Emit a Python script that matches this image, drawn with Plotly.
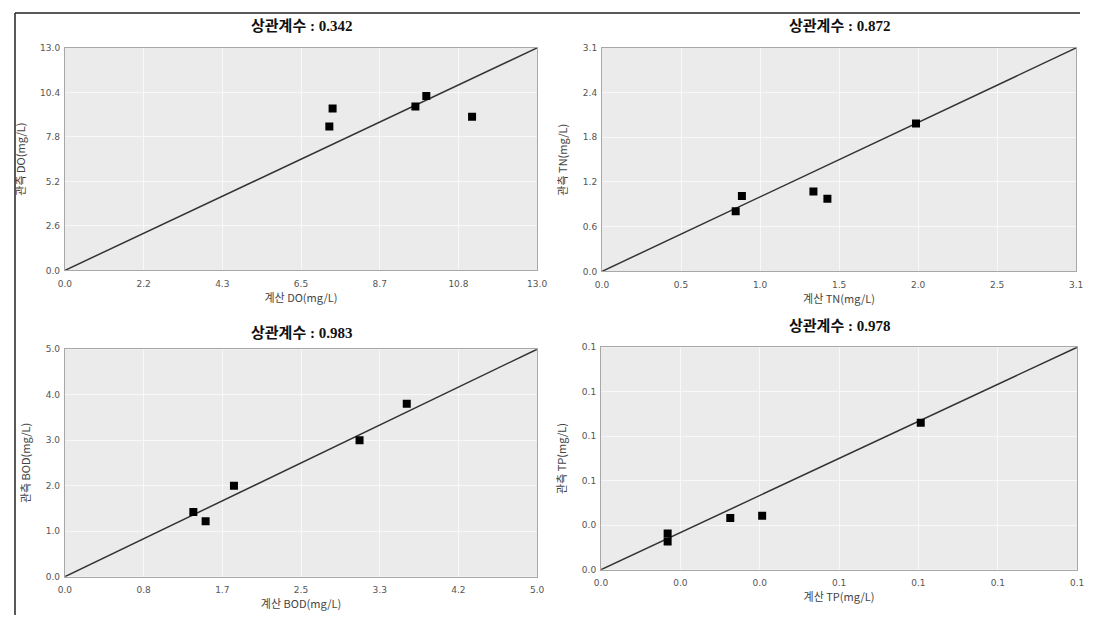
import plotly.graph_objects as go

# ---------------- data ----------------
panel_names = ["DO", "TN", "BOD", "TP"]
corr_coefs = ["0.342", "0.872", "0.983", "0.978"]
axis_max = [13.0, 3.05, 5.0, 0.13]

do_calc = [7.28, 7.37, 9.65, 9.95, 11.21]
do_obs = [8.41, 9.46, 9.58, 10.19, 8.98]

tn_calc = [0.86, 0.90, 1.36, 1.45, 2.02]
tn_obs = [0.82, 1.03, 1.09, 0.99, 2.02]

bod_calc = [1.36, 1.49, 1.79, 3.12, 3.62]
bod_obs = [1.42, 1.22, 2.00, 3.00, 3.80]

tp_calc = [0.0182, 0.0182, 0.0353, 0.0440, 0.0873]
tp_obs = [0.0212, 0.0164, 0.0302, 0.0315, 0.0858]

do_xticks = ["0.0", "2.2", "4.3", "6.5", "8.7", "10.8", "13.0"]
do_yticks = ["0.0", "2.6", "5.2", "7.8", "10.4", "13.0"]
tn_xticks = ["0.0", "0.5", "1.0", "1.5", "2.0", "2.5", "3.1"]
tn_yticks = ["0.0", "0.6", "1.2", "1.8", "2.4", "3.1"]
bod_xticks = ["0.0", "0.8", "1.7", "2.5", "3.3", "4.2", "5.0"]
bod_yticks = ["0.0", "1.0", "2.0", "3.0", "4.0", "5.0"]
tp_xticks = ["0.0", "0.0", "0.0", "0.1", "0.1", "0.1", "0.1"]
tp_yticks = ["0.0", "0.0", "0.1", "0.1", "0.1", "0.1"]

calc_data = [do_calc, tn_calc, bod_calc, tp_calc]
obs_data = [do_obs, tn_obs, bod_obs, tp_obs]
xtick_labels = [do_xticks, tn_xticks, bod_xticks, tp_xticks]
ytick_labels = [do_yticks, tn_yticks, bod_yticks, tp_yticks]

# ---------------- layout geometry ----------------
W, H = 1082, 612
# observed placement of the figure on the photographed page
SC, CX, CY = 0.986, 14.0, 12.0
# (left, right, top, bottom) of each plotting area in target pixels
boxes = [(64, 537, 47, 270), (602, 1077, 47, 271),
         (64, 537, 349, 577), (601, 1078, 347, 570)]
title_y = [25, 25, 333, 326]


def px(x):
    return max(0.0, min(1.0, (x - CX) / SC / W))


def py(y):
    return max(0.0, min(1.0, 1 - (y - CY) / SC / H))


fig = go.Figure()
annotations = []
KFONT = "Noto Sans CJK KR, DejaVu Sans, sans-serif"
TFONT = "Liberation Serif, Noto Sans CJK KR, serif"

for i in range(4):
    l, r, t, b = boxes[i]
    m = axis_max[i]
    xa = "x" if i == 0 else f"x{i+1}"
    ya = "y" if i == 0 else f"y{i+1}"
    xkey = "xaxis" if i == 0 else f"xaxis{i+1}"
    ykey = "yaxis" if i == 0 else f"yaxis{i+1}"
    nx = len(xtick_labels[i]) - 1
    ny = len(ytick_labels[i]) - 1
    common = dict(
        showgrid=True, gridcolor="#f8f8f8", gridwidth=1.2,
        zeroline=False, showline=True, linecolor="#a8a8a8", linewidth=1,
        mirror=True, ticks="", tickfont=dict(family="DejaVu Sans, sans-serif", size=9, color="#555"),
        fixedrange=True,
    )
    fig.update_layout({
        xkey: dict(common, domain=[px(l), px(r)], anchor=ya, range=[0, m],
                   tickmode="array",
                   tickvals=[m * k / nx for k in range(nx + 1)],
                   ticktext=xtick_labels[i],
                   ticklabelstandoff=5,
                   title=dict(text=f"계산 {panel_names[i]}(mg/L)",
                              font=dict(family=KFONT, size=11, color="#444"),
                              standoff=3)),
        ykey: dict(common, domain=[py(b), py(t)], anchor=xa, range=[0, m],
                   tickmode="array",
                   tickvals=[m * k / ny for k in range(ny + 1)],
                   ticktext=ytick_labels[i],
                   ticklabelstandoff=2,
                   title=dict(text=f"관측 {panel_names[i]}(mg/L)",
                              font=dict(family=KFONT, size=11, color="#444"),
                              standoff=12)),
    })
    # 1:1 reference line spanning the axis range
    fig.add_trace(go.Scatter(x=[0, m], y=[0, m], mode="lines", xaxis=xa, yaxis=ya,
                             line=dict(color="#333", width=1.5), showlegend=False,
                             hoverinfo="skip"))
    fig.add_trace(go.Scatter(x=calc_data[i], y=obs_data[i], mode="markers",
                             xaxis=xa, yaxis=ya,
                             marker=dict(symbol="square", size=8, color="#000"),
                             showlegend=False, name=panel_names[i]))
    annotations.append(dict(
        text=f"<b>상관계수 : {corr_coefs[i]}</b>", x=px((l + r) / 2), y=py(title_y[i]),
        xref="paper", yref="paper", showarrow=False, xanchor="center", yanchor="middle",
        font=dict(family=TFONT, size=15, color="#111")))

fig.update_layout(
    width=W, height=H,
    margin=dict(l=0, r=0, t=0, b=0),
    paper_bgcolor="white",
    plot_bgcolor="#ebebeb",
    annotations=annotations,
    shapes=[
        dict(type="line", xref="paper", yref="paper", x0=px(8), x1=1, y0=py(8), y1=py(8),
             line=dict(color="#222", width=1.5)),
        dict(type="line", xref="paper", yref="paper", x0=px(8), x1=px(8), y0=0, y1=py(8),
             line=dict(color="#222", width=1.5)),
    ],
)

fig.write_html("out.html")
